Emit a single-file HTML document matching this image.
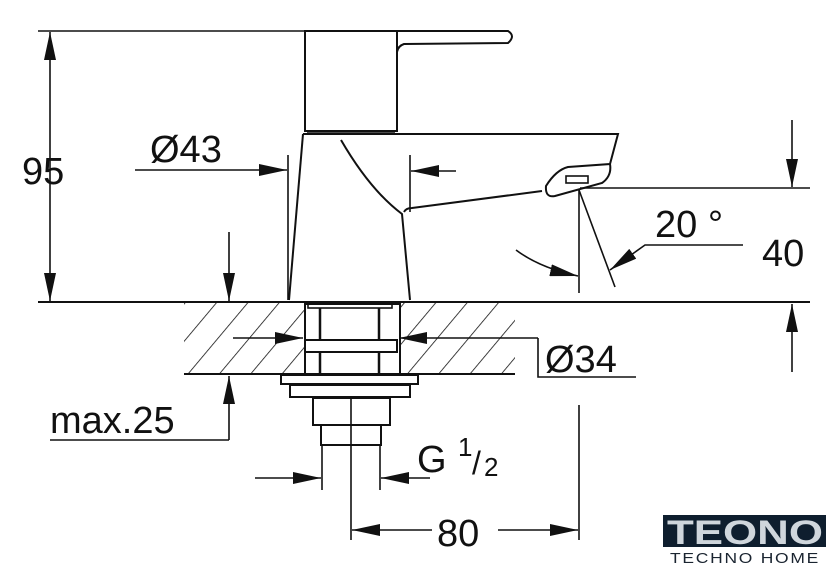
<!DOCTYPE html>
<html><head><meta charset="utf-8"><style>
html,body{margin:0;padding:0;background:#fff;}
svg{display:block;}
text{font-family:"Liberation Sans",sans-serif;fill:#111;}
</style></head><body>
<svg width="840" height="575" viewBox="0 0 840 575" xmlns="http://www.w3.org/2000/svg">
<defs>
<marker id="a" viewBox="0 0 10 10" refX="10" refY="5" markerWidth="28" markerHeight="12" markerUnits="userSpaceOnUse" orient="auto-start-reverse" preserveAspectRatio="none"><path d="M0,0 L10,5 L0,10 Z" fill="#111"/></marker>
<pattern id="h" width="24" height="24" patternUnits="userSpaceOnUse" patternTransform="rotate(40)"><line x1="0" y1="0" x2="0" y2="24" stroke="#111" stroke-width="1.6" stroke-dasharray="30 4"/></pattern>
</defs>
<g stroke="#111" stroke-width="1.6" fill="none">
<rect x="184" y="303" width="121" height="71" fill="url(#h)" stroke="none"/>
<rect x="400" y="303" width="115" height="71" fill="url(#h)" stroke="none"/>
<line x1="38" y1="302" x2="810" y2="302" stroke-width="2"/>
<line x1="184" y1="374" x2="515" y2="374" stroke-width="2"/>
<line x1="38" y1="31" x2="305" y2="31"/>
<line x1="50" y1="32" x2="50" y2="301" marker-start="url(#a)" marker-end="url(#a)"/>
<rect x="305" y="31" width="92" height="100" stroke-width="2"/>
<path d="M387,31 L508,31 Q516,36 508,43 L404,44 Q398,46 397,52" stroke-width="2"/>
<line x1="307" y1="132" x2="395" y2="132"/>
<path d="M303,134 L618,134 L610,164 L568,167 Q556,170 546,186 Q545,198 555,196 L602,183 Q612,176 610,164" stroke-width="2"/>
<path d="M303,134 L289,300" stroke-width="2"/>
<path d="M341,140 Q370,190 402,214 L410,300" stroke-width="2"/>
<path d="M404,212 Q406,208 412,208 L542,191" stroke-width="2"/>
<rect x="566" y="176" width="22" height="7" stroke-width="1.6"/>
<line x1="288" y1="155" x2="288" y2="300"/>
<line x1="410" y1="155" x2="410" y2="212"/>
<line x1="135" y1="170" x2="287" y2="170" marker-end="url(#a)"/>
<line x1="456" y1="171" x2="411" y2="171" marker-end="url(#a)"/>
<line x1="579" y1="190" x2="579" y2="293"/>
<line x1="579" y1="190" x2="615" y2="287"/>
<path d="M516,250 Q540,268 578,276" marker-end="url(#a)"/>
<path d="M743,245 L645,245 L610,270" marker-end="url(#a)"/>
<line x1="580" y1="188" x2="810" y2="188"/>
<line x1="792" y1="120" x2="792" y2="187" marker-end="url(#a)"/>
<line x1="792" y1="372" x2="792" y2="304" marker-end="url(#a)"/>
<line x1="229" y1="232" x2="229" y2="301" marker-end="url(#a)"/>
<line x1="229" y1="440" x2="229" y2="376" marker-end="url(#a)"/>
<line x1="50" y1="440" x2="229" y2="440"/>
<rect x="305" y="304" width="95" height="70" fill="#fff" stroke-width="2"/>
<rect x="308" y="304" width="84" height="4"/>
<line x1="320" y1="308" x2="320" y2="374" stroke-width="2.5"/>
<line x1="379" y1="308" x2="379" y2="374" stroke-width="2.5"/>
<rect x="305" y="340" width="92" height="12" fill="#fff" stroke-width="2"/>
<rect x="281" y="375" width="137" height="9" fill="#fff" stroke-width="2"/>
<rect x="290" y="385" width="120" height="12" fill="#fff" stroke-width="2"/>
<rect x="313" y="398" width="77" height="27" stroke-width="2"/>
<line x1="351" y1="398" x2="351" y2="540"/>
<rect x="321" y="425" width="60" height="20" stroke-width="2"/>
<line x1="322" y1="445" x2="322" y2="490"/>
<line x1="380" y1="445" x2="380" y2="490"/>
<line x1="233" y1="338" x2="303" y2="338" marker-end="url(#a)"/>
<line x1="538" y1="338" x2="399" y2="338" marker-end="url(#a)"/>
<path d="M538,338 L538,377 L636,377"/>
<line x1="255" y1="478" x2="321" y2="478" marker-end="url(#a)"/>
<line x1="430" y1="478" x2="381" y2="478" marker-end="url(#a)"/>
<line x1="579" y1="405" x2="579" y2="540"/>
<line x1="352" y1="530" x2="578" y2="530" marker-start="url(#a)" marker-end="url(#a)"/>
</g>
<rect x="432" y="515" width="66" height="32" fill="#fff"/>
<g font-size="38">
<text x="22" y="184">95</text>
<text x="150" y="162">Ø43</text>
<text x="655" y="237">20 °</text>
<text x="762" y="266">40</text>
<text x="545" y="372">Ø34</text>
<text x="50" y="433">max.25</text>
<text x="417" y="472">G</text>
<text x="437" y="546">80</text>
</g>
<text x="458" y="456" font-size="26">1</text>
<text x="472" y="474" font-size="32">/</text>
<text x="484" y="476" font-size="26">2</text>
<rect x="663" y="515" width="163" height="32" fill="#0e1e2e"/>
<text x="667" y="544" font-size="34" font-weight="bold" style="fill:#cfd6dc" textLength="156" lengthAdjust="spacingAndGlyphs">TEONO</text>
<text x="670" y="563" font-size="15" style="fill:#1a2430" letter-spacing="1.5" textLength="150" lengthAdjust="spacingAndGlyphs">TECHNO HOME</text>
</svg>
</body></html>
